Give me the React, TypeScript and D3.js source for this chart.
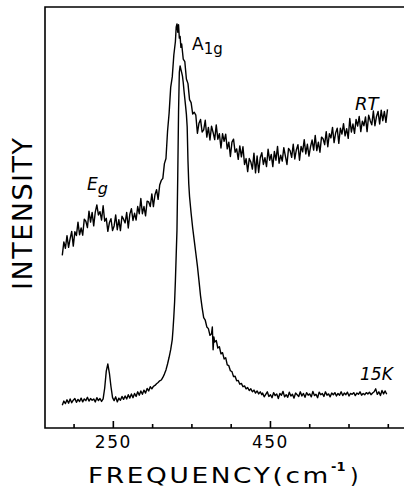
import React from "react";
import * as d3 from "d3";

// Raman spectra: [frequency (cm^-1), intensity (arb.)]
const rtSpectrum: [number, number][] = [
  [185, 41.0], [187, 44.2], [189, 42.7], [191, 45.7], [193, 42.9], [195, 45.0], [197, 46.7], [199, 43.2],
  [201, 46.6], [203, 45.7], [205, 48.9], [207, 45.9], [209, 47.5], [211, 45.8], [213, 49.6], [215, 49.1],
  [217, 47.6], [219, 51.5], [221, 48.9], [223, 51.2], [225, 48.0], [227, 51.3], [229, 53.0], [231, 50.6],
  [233, 51.4], [235, 49.4], [237, 52.8], [239, 49.1], [241, 49.8], [243, 46.7], [245, 48.8], [247, 49.7],
  [249, 46.9], [251, 48.0], [253, 50.6], [255, 47.1], [257, 49.5], [259, 46.9], [261, 50.3], [263, 49.6],
  [265, 48.7], [267, 51.2], [269, 47.5], [271, 50.8], [273, 52.1], [275, 49.3], [277, 51.0], [279, 49.4],
  [281, 52.6], [283, 50.9], [285, 54.5], [287, 50.9], [289, 52.6], [291, 50.4], [293, 53.9], [295, 53.7],
  [297, 52.6], [299, 55.6], [301, 52.6], [303, 55.4], [305, 56.6], [307, 54.3], [309, 57.7], [311, 58.8],
  [313, 59.3], [315, 62.8], [317, 64.0], [319, 70.5], [321, 74.8], [323, 80.9], [325, 83.4], [327, 88.6],
  [329, 91.8], [330, 95.2], [331, 96.0], [332, 94.0], [333, 95.8], [334, 92.6], [335, 93.0], [336, 90.4],
  [337, 91.2], [339, 87.6], [341, 87.0], [343, 82.9], [345, 81.8], [347, 78.0], [349, 77.3], [351, 74.6],
  [353, 75.0], [355, 74.3], [357, 70.0], [359, 72.4], [361, 73.3], [363, 70.3], [365, 70.8], [367, 73.1],
  [369, 69.1], [371, 71.4], [373, 68.4], [375, 71.7], [377, 70.2], [379, 68.5], [381, 72.0], [383, 68.6],
  [385, 69.9], [387, 66.5], [389, 69.9], [391, 68.1], [393, 69.8], [395, 66.3], [397, 67.9], [399, 64.5],
  [401, 67.9], [403, 68.6], [405, 65.5], [407, 66.3], [409, 63.8], [411, 67.0], [413, 64.4], [415, 66.8],
  [417, 62.6], [419, 64.0], [421, 60.9], [423, 64.0], [425, 63.2], [427, 61.5], [429, 65.3], [431, 60.6],
  [433, 64.6], [435, 60.7], [437, 64.2], [439, 65.4], [441, 62.6], [443, 64.2], [445, 62.1], [447, 66.2],
  [449, 63.6], [451, 65.0], [453, 62.1], [455, 65.7], [457, 63.6], [459, 66.9], [461, 62.9], [463, 64.8],
  [465, 63.4], [467, 66.6], [469, 64.6], [471, 62.6], [473, 66.4], [475, 65.9], [477, 64.3], [479, 67.4],
  [481, 63.9], [483, 66.1], [485, 67.3], [487, 63.6], [489, 66.9], [491, 65.6], [493, 68.5], [495, 65.1],
  [497, 67.4], [499, 64.6], [501, 66.8], [503, 68.4], [505, 66.0], [507, 69.5], [509, 65.9], [511, 67.9],
  [513, 65.5], [515, 69.1], [517, 68.7], [519, 67.3], [521, 70.4], [523, 66.8], [525, 69.9], [527, 68.9],
  [529, 71.4], [531, 67.8], [533, 70.1], [535, 71.2], [537, 67.6], [539, 71.2], [541, 69.8], [543, 72.3],
  [545, 69.4], [547, 71.1], [549, 68.8], [551, 73.5], [553, 70.3], [555, 72.2], [557, 70.0], [559, 73.3],
  [561, 71.7], [563, 74.0], [565, 70.4], [567, 72.9], [569, 71.8], [571, 73.9], [573, 70.4], [575, 74.3],
  [577, 73.0], [579, 72.0], [581, 75.3], [583, 71.8], [585, 74.0], [587, 75.2], [589, 72.2], [591, 75.5],
  [593, 73.0], [595, 75.2], [597, 72.6], [599, 75.7],
];

const lowTSpectrum: [number, number][] = [
  [185, 5.4], [187, 6.4], [189, 5.8], [191, 6.7], [193, 5.9], [195, 6.9], [197, 6.0], [199, 6.6],
  [201, 7.0], [203, 6.1], [205, 6.8], [207, 6.3], [209, 7.1], [211, 6.2], [213, 6.9], [215, 6.5],
  [217, 7.3], [219, 6.4], [221, 7.0], [223, 6.6], [225, 6.9], [227, 6.2], [229, 7.2], [231, 6.5],
  [233, 7.0], [235, 6.3], [237, 6.9], [239, 9.5], [241, 13.5], [243, 15.2], [245, 13.0], [247, 9.8],
  [249, 7.2], [251, 6.5], [253, 7.4], [255, 6.2], [257, 7.1], [259, 6.6], [261, 7.5], [263, 6.8],
  [265, 7.6], [267, 6.9], [269, 7.9], [271, 7.1], [273, 8.1], [275, 7.2], [277, 8.2], [279, 7.5],
  [281, 8.6], [283, 7.8], [285, 8.8], [287, 8.0], [289, 9.0], [291, 8.3], [293, 9.4], [295, 8.8],
  [297, 9.8], [299, 9.3], [301, 9.9], [303, 10.1], [305, 10.5], [307, 10.8], [309, 11.2], [311, 11.4],
  [313, 12.0], [315, 12.8], [317, 13.8], [319, 15.2], [321, 16.8], [323, 18.6], [325, 21.0], [326, 23.5],
  [327, 26.5], [328, 30.0], [329, 35.0], [330, 41.0], [331, 47.0], [332, 60.0], [333, 75.0], [334, 84.5],
  [335, 86.0], [336, 85.2], [337, 84.4], [338, 83.6], [339, 82.0], [340, 80.0], [341, 78.2], [342, 76.4],
  [343, 74.5], [344, 71.5], [345, 63.5], [346, 58.0], [347, 55.0], [349, 51.0], [351, 47.5], [353, 44.5],
  [355, 41.5], [357, 38.5], [359, 35.0], [361, 31.4], [363, 28.6], [365, 26.2], [367, 25.6], [369, 24.0],
  [371, 23.6], [373, 22.0], [375, 22.4], [376, 24.0], [377, 18.6], [378, 21.6], [379, 20.4], [381, 20.8],
  [383, 19.0], [385, 19.3], [387, 17.6], [389, 17.9], [391, 16.4], [393, 16.7], [395, 15.0], [397, 14.8],
  [399, 13.6], [401, 13.4], [403, 12.2], [405, 12.3], [407, 11.2], [409, 11.3], [411, 10.4], [413, 10.6],
  [415, 9.8], [417, 10.0], [419, 9.3], [421, 9.6], [423, 8.9], [425, 9.3], [427, 8.6], [429, 9.0],
  [431, 8.3], [433, 8.8], [435, 8.1], [437, 8.6], [439, 7.9], [440, 8.3], [442, 7.4], [444, 8.0],
  [446, 8.6], [448, 7.5], [450, 7.9], [452, 7.2], [454, 8.4], [456, 7.7], [458, 8.1], [460, 7.0],
  [462, 8.2], [464, 7.8], [466, 8.7], [468, 7.4], [470, 7.9], [472, 7.3], [474, 8.5], [476, 7.6],
  [478, 8.0], [480, 7.1], [482, 8.3], [484, 7.9], [486, 7.5], [488, 8.6], [490, 7.6], [492, 8.2],
  [494, 7.3], [496, 8.4], [498, 7.8], [500, 8.1], [502, 7.4], [504, 8.7], [506, 7.7], [508, 8.0],
  [510, 7.2], [512, 8.5], [514, 7.9], [516, 8.2], [518, 7.5], [520, 8.6], [522, 7.8], [524, 8.1],
  [526, 7.4], [528, 8.3], [530, 7.9], [532, 8.4], [534, 7.6], [536, 8.2], [538, 7.8], [540, 8.6],
  [542, 7.7], [544, 8.3], [546, 7.9], [548, 8.5], [550, 7.6], [552, 8.2], [554, 8.0], [556, 8.4],
  [558, 7.7], [560, 8.3], [562, 8.0], [564, 8.6], [566, 7.8], [568, 8.2], [570, 7.9], [572, 8.4],
  [574, 8.1], [576, 8.5], [578, 7.9], [580, 8.3], [582, 8.6], [584, 9.3], [586, 8.0], [588, 8.6],
  [590, 7.7], [592, 8.9], [594, 8.1], [596, 8.8], [598, 8.0],
];

const axisTicks = [200, 250, 300, 350, 400, 450, 500, 550, 600];
const labelledTicks = [250, 450];

const W = 404;
const H = 491;
const left = 45;
const right = 404;
const top = 7;
const bottom = 428;

export default function App() {
  const x = d3.scaleLinear().domain([163, 620]).range([left, right]);
  const y = d3.scaleLinear().domain([0, 100]).range([bottom, top]);
  const line = d3
    .line<[number, number]>()
    .x((d) => x(d[0]))
    .y((d) => y(d[1]));

  const font = "'DejaVu Sans', 'Liberation Sans', sans-serif";

  return (
    <svg
      width={W}
      height={H}
      style={{ position: "absolute", left: 0, top: 0, background: "#fff" }}
      fontFamily={font}
    >
      <rect x={0} y={0} width={W} height={H} fill="#fff" />
      {/* frame */}
      <path
        d={`M${right},${top}H${left}V${bottom}H${right}`}
        fill="none"
        stroke="#000"
        strokeWidth={1.6}
      />
      {/* ticks */}
      {axisTicks.map((t) => {
        const len = labelledTicks.includes(t) ? 7 : 4;
        return (
          <line key={t} x1={x(t)} x2={x(t)} y1={bottom} y2={bottom - len} stroke="#000" strokeWidth={1.6} />
        );
      })}
      {labelledTicks.map((t) => (
        <text key={t} x={x(t)} y={448} textAnchor="middle" fontSize={17} letterSpacing={1.5}>
          {t}
        </text>
      ))}
      {/* spectra */}
      <path d={line(rtSpectrum) || ""} fill="none" stroke="#000" strokeWidth={1.4} strokeLinejoin="round" />
      <path d={line(lowTSpectrum) || ""} fill="none" stroke="#000" strokeWidth={1.4} strokeLinejoin="round" />
      {/* peak labels */}
      <text x={87} y={190} fontSize={17} fontStyle="italic">
        E<tspan dy={4} fontSize={16}>g</tspan>
      </text>
      <text x={192} y={50} fontSize={17}>
        A<tspan dy={4} fontSize={15}>1g</tspan>
      </text>
      <text x={355} y={110} fontSize={18} fontStyle="italic">
        RT
      </text>
      <text x={360} y={380} fontSize={17} fontStyle="italic">
        15K
      </text>
      {/* axis titles */}
      <text transform="translate(88,483) scale(1.2,1)" fontSize={22} letterSpacing={2.2}>
        FREQUENCY(cm
      </text>
      <text x={331} y={471} fontSize={13} fontWeight="bold">
        -1
      </text>
      <text x={350} y={483} fontSize={22}>
        )
      </text>
      <text
        transform="translate(32,214) rotate(-90)"
        textAnchor="middle"
        fontSize={27}
        textLength={152}
        lengthAdjust="spacing"
      >
        INTENSITY
      </text>
    </svg>
  );
}
